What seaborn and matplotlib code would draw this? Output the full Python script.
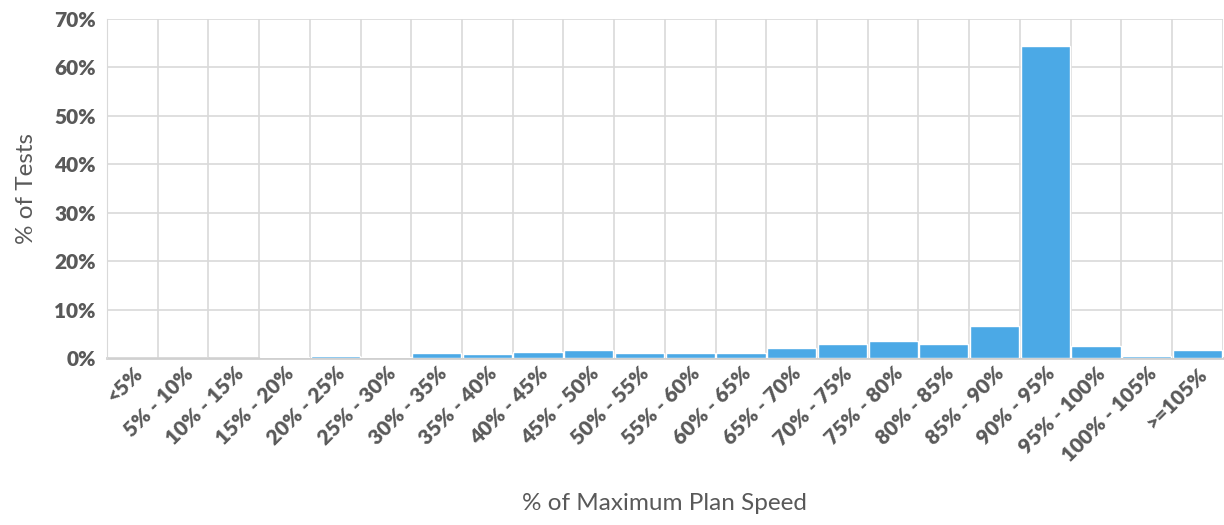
import matplotlib
matplotlib.use("Agg")
import matplotlib.pyplot as plt
import seaborn as sns
import pandas as pd
import numpy as np
from matplotlib.ticker import FuncFormatter, FixedLocator

categories = ["<5%", "5% - 10%", "10% - 15%", "15% - 20%", "20% - 25%", "25% - 30%",
              "30% - 35%", "35% - 40%", "40% - 45%", "45% - 50%", "50% - 55%",
              "55% - 60%", "60% - 65%", "65% - 70%", "70% - 75%", "75% - 80%",
              "80% - 85%", "85% - 90%", "90% - 95%", "95% - 100%", "100% - 105%",
              ">=105%"]
pct_tests = [0.05, 0.05, 0.1, 0.15, 0.35, 0.15, 1.1, 0.9, 1.25, 1.75, 0.95,
             0.95, 1.1, 2.1, 2.8, 3.6, 2.9, 6.6, 64.4, 2.4, 0.4, 1.7]

df = pd.DataFrame({"cat": categories, "val": pct_tests})

sns.set_style("white")
plt.rcParams["font.family"] = ["Lato", "DejaVu Sans"]

fig = plt.figure(figsize=(12.24, 5.25), dpi=100)
ax = fig.add_axes([0.0874, 0.318, 0.9116, 0.646])

sns.barplot(data=df, x="cat", y="val", color="#4BA9E6", saturation=1,
            width=0.97, ax=ax, zorder=3)

n = len(categories)
ax.set_xlim(-0.5, n - 0.5)
ax.set_ylim(0, 70)
ax.set_yticks(np.arange(0, 71, 10))
ax.yaxis.set_major_formatter(FuncFormatter(lambda v, p: f"{v:.0f}%"))
ax.xaxis.set_minor_locator(FixedLocator(np.arange(-0.5, n, 1.0)))
ax.grid(axis="y", which="major", color="#D9D9D9", linewidth=1.2, zorder=0)
ax.grid(axis="x", which="minor", color="#D9D9D9", linewidth=1.2, zorder=0)
ax.set_axisbelow(True)

for s in ["top", "right"]:
    ax.spines[s].set_visible(False)
ax.spines["left"].set_color("#D9D9D9")
ax.spines["bottom"].set_color("#D0D0D0")
ax.spines["bottom"].set_linewidth(2)
ax.spines["bottom"].set_zorder(2)

ax.tick_params(axis="both", which="both", length=0, colors="#595959")
ax.tick_params(axis="y", pad=8)
ax.tick_params(axis="x", pad=4)
for lbl in ax.get_yticklabels():
    lbl.set_fontsize(15)
    lbl.set_fontweight("heavy")
plt.setp(ax.get_xticklabels(), rotation=45, ha="right", rotation_mode="anchor",
         fontsize=15, fontweight="heavy")

ax.set_xlabel("% of Maximum Plan Speed", fontsize=17.5, color="#595959", labelpad=20)
ax.set_ylabel("% of Tests", fontsize=17.5, color="#595959", labelpad=12)

fig.savefig("out.png", dpi=100)
